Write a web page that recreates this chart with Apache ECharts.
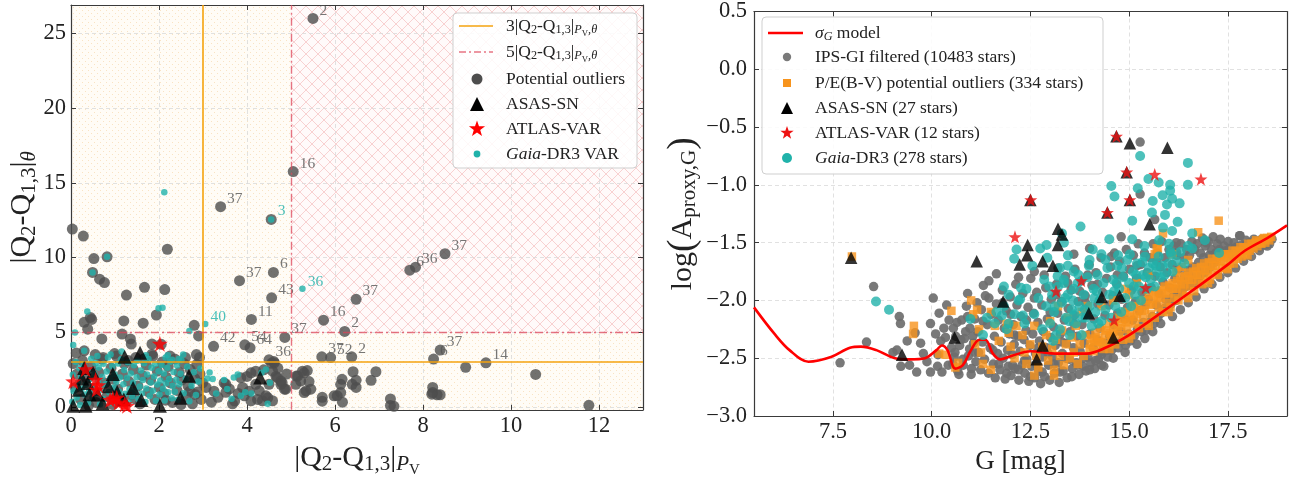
<!DOCTYPE html>
<html><head><meta charset="utf-8">
<script src="https://cdn.jsdelivr.net/npm/echarts@6/dist/echarts.min.js"></script>
<style>html,body{margin:0;padding:0;background:#fff;}#c{width:1299px;height:483px;}</style>
</head><body><div id="c"></div>
<script>
// ---------------- DATA ----------------
const leftXTicks = [0, 2, 4, 6, 8, 10, 12];
const leftYTicks = [0, 5, 10, 15, 20, 25];
const rightXTicks = [7.5, 10, 12.5, 15, 17.5];
const rightYTicks = [-3, -2.5, -2, -1.5, -1, -0.5, 0, 0.5];
const threshold3 = 3;
const threshold5 = 5;

const leftGray = [
[0.03,11.9],[0.28,11.43],[2.19,10.55],[0.52,9.93],[0.82,10.04],[0.49,9.0],[0.65,8.55],[0.76,8.32],[1.26,7.48],[1.67,8.0],[2.13,7.85],[1.94,6.15],
[0.3,5.66],[0.44,5.99],[0.38,5.2],[0.47,5.85],[1.2,5.75],[1.64,5.6],[2.8,5.46],[2.9,4.75],[0.7,4.55],[1.16,4.87],[1.35,4.55],[1.37,4.2],[1.84,4.2],
[0.3,3.75],[0.73,3.31],[0.99,3.57],[1.84,3.53],[2.92,3.31],[2.05,4.19],
[0.05,2.9],[0.14,2.2],[0.1,1.3],[0.22,0.5],[0.26,3.1],[0.36,1.9],[0.45,2.7],[0.53,1.1],[0.57,0.3],[0.63,2.3],[0.7,3.2],[0.77,1.6],[0.82,0.7],[0.91,2.6],
[0.96,1.85],[1.03,3.4],[1.06,1.2],[1.12,0.4],[1.17,2.2],[1.21,2.9],[1.31,1.7],[1.36,0.8],[1.42,2.5],[1.47,3.3],[1.52,1.4],[1.57,0.2],[1.62,2.1],[1.71,2.8],
[1.76,1.0],[1.81,1.8],[1.86,3.4],[1.91,0.5],[1.96,2.4],[2.01,1.3],[2.07,3.0],[2.11,0.9],[2.16,2.0],[2.21,2.7],[2.26,1.6],[2.31,0.3],[2.36,3.2],[2.41,1.1],
[2.46,2.3],[2.52,1.8],[2.57,2.9],[2.62,0.7],[2.66,1.4],[2.71,2.5],[2.76,0.2],[2.81,1.9],[2.86,2.85],[2.88,1.0],[2.93,2.2],[2.96,0.5],[2.99,1.6],[2.85,3.5],
[0.12,3.6],[0.55,3.5],[1.3,3.1],[1.65,3.2],[2.25,3.4],[2.6,3.3],[0.4,0.1],[0.95,0.15],[1.45,0.55],[2.15,0.45],[2.5,0.15],[2.7,1.05],
[3.07,1.3],[3.19,0.31],[3.34,0.64],[3.52,1.51],[3.52,0.97],[3.67,0.2],[3.86,1.95],[3.9,1.3],[3.94,0.74],[4.09,0.41],[4.09,2.28],[4.2,2.39],[4.28,1.07],
[4.35,0.41],[4.43,0.74],[4.5,1.51],[4.58,2.39],[4.62,2.94],[4.69,1.95],[4.77,1.51],[4.88,1.18],[4.2,1.51],[4.58,0.41],[4.85,1.18],[4.77,1.73],[3.25,1.05],
[3.48,1.6],[3.72,0.39],[4.0,2.04],[4.05,1.05],[4.38,2.48],[4.56,2.92],[4.66,2.04],[4.8,1.6],[4.24,0.5],[4.47,0.61],[2.82,0.83],[4.7,2.6],[4.9,2.2],[3.6,1.2],
[3.8,0.9],[4.61,3.03],
[5.12,2.06],[5.26,2.39],[5.37,2.43],[5.22,1.73],[5.34,1.07],[5.15,2.06],[5.11,1.51],[5.3,0.96],[5.45,1.18],[5.41,1.69],[5.3,2.28],[5.71,0.64],[5.71,0.38],
[5.98,0.74],[6.13,1.51],[6.13,0.96],[6.17,0.31],[6.41,2.35],[6.48,1.78],[6.48,1.3],[6.82,1.78],[6.93,2.35],[7.26,0.53],[7.26,0.09],[7.34,0.04],[6.05,0.74],
[6.16,1.84],[6.39,1.51],[8.22,1.3],[8.22,0.96],[8.32,0.81],[8.39,0.81],[8.2,0.85],[8.97,2.65],[10.56,2.17],[11.77,0.1]
];
// [x, y, label, labelColour ('g' grey / 't' teal)]
const leftGrayLabelled = [
[5.5,26.0,'2','g'],[5.05,15.75,'16','g'],[3.4,13.4,'37','g'],[4.55,12.55,'3','t'],[8.5,10.25,'37','g'],[7.7,9.15,'6','g'],[7.83,9.35,'36','g'],
[3.83,8.45,'37','g'],[4.6,9.0,'6','g'],[4.56,7.3,'43','g'],[6.48,7.2,'37','g'],[4.1,5.85,'11','g'],[5.74,5.8,'16','g'],[6.22,5.05,'2','g'],[4.86,4.65,'37','g'],
[3.24,4.05,'42','g'],[3.95,4.15,'54','g'],[4.07,3.95,'64','g'],[4.5,3.15,'36','g'],[5.7,3.35,'37','g'],[5.9,3.3,'52','g'],[6.38,3.35,'2','g'],
[8.39,3.8,'37','g'],[8.24,3.2,'6','g'],[9.43,2.95,'14','g']
];
const leftTeal = [
[0.03,0.35],[0.06,1.05],[0.04,2.15],[0.11,3.0],[0.13,0.62],[0.16,1.63],[0.19,2.58],[0.21,0.12],[0.24,1.22],[0.23,2.04],[0.29,2.86],[0.31,0.82],[0.33,1.48],
[0.37,2.41],[0.39,0.28],[0.41,1.02],[0.44,1.88],[0.46,3.22],[0.49,0.61],[0.51,1.39],[0.53,2.19],[0.56,2.94],[0.59,0.93],[0.61,1.71],[0.63,2.63],[0.66,0.18],
[0.69,1.17],[0.71,2.02],[0.74,2.88],[0.77,0.52],[0.79,1.53],[0.81,2.37],[0.84,3.31],[0.86,0.99],[0.89,1.91],[0.92,0.27],[0.94,2.72],[0.97,1.29],[0.99,2.18],
[1.01,0.71],[1.03,1.68],[1.07,2.91],[1.09,1.03],[1.11,1.96],[1.14,3.18],[1.16,0.48],[1.19,1.51],[1.21,2.47],[1.23,0.87],[1.27,1.93],[1.29,2.98],[1.31,0.31],
[1.33,1.19],[1.36,2.23],[1.39,0.69],[1.41,1.61],[1.43,2.79],[1.46,1.04],[1.49,1.98],[1.51,3.08],[1.53,0.52],[1.56,1.37],[1.59,2.43],[1.61,0.89],[1.63,1.79],
[1.66,2.92],[1.69,0.33],[1.71,1.23],[1.73,2.17],[1.76,3.2],[1.79,0.72],[1.81,1.63],[1.83,2.61],[1.86,1.08],[1.89,2.03],[1.91,2.87],[1.93,0.41],[1.96,1.49],
[1.99,2.38],[2.01,0.83],[2.03,1.76],[2.06,2.81],[2.09,1.21],[2.11,2.24],[2.13,0.43],[2.16,1.58],[2.19,2.62],[2.21,0.98],[2.23,1.87],[2.26,3.02],[2.29,0.57],
[2.31,1.42],[2.33,2.33],[2.36,1.01],[2.39,1.82],[2.41,2.77],[2.43,0.47],[2.46,1.52],[2.49,2.21],[2.51,3.12],[2.56,0.91],[2.61,1.88],[2.64,2.68],[2.69,0.38],
[2.74,1.41],[2.79,2.31],[2.84,0.79],[2.89,1.69],[2.94,2.57],
[3.1,1.9],[3.22,1.86],[3.48,1.8],[3.7,1.97],[3.96,0.97],[3.86,0.75],[3.79,2.17],[4.33,2.28],[4.43,2.5],[4.52,1.62],[4.47,0.2],[3.3,0.9],[3.55,1.2],[3.65,0.55],
[4.1,0.9],[3.15,2.3],[2.15,3.3],[2.3,3.15],[2.45,3.2],[0.9,3.5],[1.15,3.7],[2.2,3.45],[2.55,3.5],[0.6,3.4],[1.7,3.45],
[2.12,14.36],[0.82,10.04],[0.49,9.0],[4.55,12.55],[0.37,6.38],[1.99,6.6],[2.08,6.64],[0.09,4.98],[0.05,4.14],[2.69,5.07],[0.3,3.75]
];
const leftTealLabelled = [[5.26,7.9,'36'],[3.05,5.55,'40']];
const leftTriangles = [
[1.22,3.36],[1.57,3.62],[2.68,2.08],[4.3,1.97],[0.3,2.6],[0.38,1.6],[0.85,1.38],[1.41,1.27],[1.6,0.46],[2.49,0.61],[2.02,0.07],[0.33,0.07],[0.05,0.07],
[0.61,0.83],[0.5,2.28],[0.18,1.15],[0.72,0.25],[1.05,1.0],[0.42,0.85],[1.2,0.5],[0.25,1.9],[0.95,2.2]
];
const leftStars = [
[2.02,4.23],[0.33,2.52],[0.05,1.71],[0.56,1.82],[0.58,1.16],[0.89,0.46],[1.04,0.61],[1.08,0.29],[1.22,0.18],[1.27,0.07],[0.62,1.45],[0.95,0.55]
];

const sigmaModel = [
[5.5,-2.06],[6.02,-2.29],[6.4,-2.43],[6.88,-2.53],[7.45,-2.49],[7.93,-2.41],[8.21,-2.40],[8.6,-2.43],[9.07,-2.50],[9.45,-2.51],[9.83,-2.50],[10.12,-2.43],
[10.26,-2.39],[10.4,-2.43],[10.6,-2.59],[10.79,-2.56],[10.98,-2.44],[11.21,-2.34],[11.36,-2.34],[11.55,-2.46],[11.74,-2.51],[12.02,-2.48],[12.5,-2.44],
[13.17,-2.46],[13.93,-2.46],[14.4,-2.41],[15.0,-2.30],[15.55,-2.17],[16.5,-1.94],[17.5,-1.69],[17.93,-1.57],[18.5,-1.46],[19.0,-1.35]
];
const rightGray = [
[7.68,-2.54],[8.53,-1.88],[8.35,-2.36],[9.02,-2.45],[9.12,-2.43],[9.22,-2.57],[9.44,-2.56],[9.18,-2.14],[9.21,-2.2],[9.38,-2.35],[9.58,-2.28],[9.72,-2.37],
[9.79,-2.46],[9.88,-2.53],[9.97,-2.2],[10.04,-1.98],[10.1,-2.29],[10.16,-2.47],[10.19,-2.11],[10.23,-2.35],[10.26,-2.62],[10.31,-2.24],[10.38,-2.04],[10.44,-2.17],
[10.5,-2.41],[10.53,-2.55],[10.59,-2.45],[10.64,-2.19],[10.69,-2.64],[10.74,-2.34],[10.79,-2.51],[10.86,-2.27],[10.91,-2.14],[10.96,-2.42],[11.01,-2.59],[11.04,-2.31],
[10.91,-1.94],[11.31,-1.87],[11.45,-1.83],[11.64,-1.77],[9.62,-2.62],[9.97,-2.62],[10.42,-2.56],
[10.57,-2.49],[10.61,-2.31],[10.66,-2.61],[10.71,-2.39],[10.76,-2.17],[10.8,-2.56],[10.83,-2.33],[10.88,-2.05],[10.93,-2.48],[10.97,-2.24],[11.0,-2.64],[11.06,-2.37],
[11.09,-2.16],[11.12,-2.53],[11.17,-2.27],[11.19,-2.45],[11.24,-2.6],[11.26,-2.08],[11.29,-2.36],[11.34,-2.51],[11.36,-1.96],[11.41,-2.21],[11.44,-2.63],[11.48,-2.41],[11.51,-2.12],
[11.56,-2.55],[11.59,-2.31],[11.61,-2.67],[11.64,-2.03],[11.67,-2.46],[11.69,-2.17],[11.73,-2.6],[11.76,-2.36],[11.79,-1.91],[11.81,-2.5],[11.84,-2.24],[11.86,-2.68],
[11.89,-2.09],[11.92,-2.43],[11.94,-2.57],[11.97,-2.29],[11.99,-1.97],[12.01,-2.65],[12.04,-2.47],[12.07,-2.21],[12.09,-2.38],[12.11,-2.59],[12.13,-1.86],[12.16,-2.04],
[12.19,-2.31],[12.21,-2.69],[12.24,-2.44],[12.26,-2.14],[12.29,-2.56],[12.31,-1.94],[12.34,-2.34],[12.36,-2.63],[12.39,-2.26],[12.41,-2.51],[12.44,-2.06],[12.46,-2.7],
[12.49,-2.39],[12.51,-1.81],
[12.53,-2.57],[12.56,-2.29],[12.58,-2.11],[12.61,-2.67],[12.63,-2.46],[12.66,-1.93],[12.69,-2.19],[12.71,-2.61],[12.73,-2.35],[12.76,-2.72],[12.79,-2.04],[12.81,-2.49],
[12.83,-2.27],[12.86,-2.66],[12.89,-1.89],[12.91,-2.41],[12.93,-2.16],[12.96,-2.56],[12.99,-2.69],[13.01,-2.32],[13.03,-1.99],[13.06,-2.49],[13.09,-2.23],[13.11,-2.63],
[13.13,-2.39],[13.16,-1.86],[13.19,-2.11],[13.21,-2.54],[13.23,-2.71],[13.26,-2.29],[13.29,-2.01],[13.31,-2.46],[13.33,-2.61],[13.36,-2.17],[13.39,-1.79],[13.41,-2.37],
[13.43,-2.67],[13.46,-2.07],[13.49,-2.51],
[13.51,-2.27],[13.53,-1.91],[13.56,-2.59],[13.59,-2.41],[13.61,-2.13],[13.63,-1.73],[13.66,-2.54],[13.69,-2.31],[13.71,-2.01],[13.73,-2.64],[13.76,-2.44],[13.79,-1.83],
[13.81,-2.21],[13.83,-2.57],[13.86,-2.37],[13.89,-1.96],[13.91,-2.61],[13.93,-2.11],[13.96,-2.49],[13.99,-1.69],[14.01,-2.29],[14.03,-2.54],[14.06,-1.87],[14.09,-2.41],
[14.11,-2.16],[14.13,-2.59],[14.16,-1.76],[14.19,-2.34],[14.21,-2.03],[14.23,-2.51],[14.26,-2.24],[14.29,-1.63],[14.31,-2.44],[14.33,-1.93],[14.36,-2.57],[14.39,-2.13],
[14.41,-2.37],[14.43,-1.81],[14.46,-2.49],[14.49,-2.04],
[14.51,-2.31],[14.53,-1.71],[14.56,-2.43],[14.59,-1.96],[14.61,-2.21],[14.63,-1.59],[14.66,-2.37],[14.69,-1.86],[14.71,-2.11],[14.73,-2.41],[14.76,-1.66],[14.79,-2.27],
[14.81,-1.99],[14.83,-2.35],[14.86,-1.79],[14.89,-2.16],[14.91,-2.39],[14.93,-1.56],[14.96,-2.06],[14.99,-2.29],[15.01,-1.73],[15.03,-2.35],[15.06,-1.91],[15.09,-2.17],
[15.11,-1.61],[15.13,-2.31],[15.16,-2.01],[15.19,-1.81],[15.21,-2.25],[15.23,-1.51],[15.26,-2.09],[15.29,-1.69],[15.31,-2.27],[15.33,-1.93],[15.36,-2.19],[15.39,-1.59],
[15.41,-2.04],[15.43,-2.26],[15.46,-1.76],[15.49,-1.99],
[15.51,-2.19],[15.53,-1.63],[15.56,-1.89],[15.59,-2.14],[15.61,-1.51],[15.63,-2.2],[15.66,-1.79],[15.69,-2.04],[15.71,-1.59],[15.73,-2.15],[15.76,-1.94],[15.79,-1.71],
[15.81,-2.11],[15.83,-1.49],[15.86,-1.84],[15.89,-2.07],[15.91,-1.63],[15.93,-1.99],[15.96,-1.76],[15.99,-2.08],[16.01,-1.56],[16.03,-1.89],[16.06,-2.03],[16.09,-1.69],
[16.11,-1.97],[16.13,-1.53],[16.16,-1.81],[16.19,-2.0],[16.21,-1.61],[16.23,-1.91],[16.26,-1.73],[16.29,-1.95],[16.31,-1.51],[16.33,-1.84],[16.36,-1.9],[16.39,-1.63],
[16.41,-1.79],[16.43,-1.88],[16.46,-1.56],[16.49,-1.74],
[16.51,-1.87],[16.53,-1.61],[16.56,-1.81],[16.59,-1.49],[16.61,-1.71],[16.63,-1.85],[16.66,-1.56],[16.69,-1.77],[16.71,-1.83],[16.73,-1.51],[16.76,-1.67],[16.79,-1.79],
[16.81,-1.59],[16.83,-1.73],[16.86,-1.46],[16.89,-1.63],[16.91,-1.76],[16.93,-1.53],[16.96,-1.69],[16.99,-1.73],[17.01,-1.49],[17.03,-1.61],[17.06,-1.71],[17.09,-1.56],
[17.11,-1.65],[17.13,-1.45],[17.16,-1.67],[17.19,-1.59],[17.21,-1.63],[17.23,-1.51],[17.26,-1.61],[17.29,-1.56],[17.31,-1.47],[17.36,-1.59],[17.41,-1.53],[17.46,-1.57],
[17.51,-1.49],[17.56,-1.55],[17.61,-1.61],[17.66,-1.5],[17.71,-1.54],[17.76,-1.59],[17.81,-1.44],[17.86,-1.52],[17.91,-1.56],[17.96,-1.48],[18.01,-1.53],[18.06,-1.5],
[18.11,-1.55],[18.16,-1.47],[18.21,-1.51],[18.26,-1.49],[18.31,-1.54],[18.36,-1.47],[18.41,-1.5],[18.46,-1.52],[18.51,-1.48],[18.56,-1.51],[18.62,-1.47],
[16.9,-1.9],[17.1,-1.86],[17.3,-1.8],[17.5,-1.76],[17.7,-1.72],[17.9,-1.66],[18.1,-1.62],[18.3,-1.57],[18.5,-1.53],[16.5,-2.02],[16.7,-1.97],[16.1,-2.14],
[16.3,-2.08],[15.8,-2.2],[15.6,-2.27],[15.4,-2.33],[15.2,-2.38],[14.9,-2.45],[14.6,-2.5],[14.3,-2.56],
[15.28,-0.63],[15.28,-1.08],[17.8,-1.44],[16.95,-1.5],[16.2,-1.5],[15.65,-1.3],[14.8,-1.45],[14.0,-1.55],[13.6,-1.6],[13.2,-1.72],[12.6,-1.75],[12.2,-1.8],
[11.7,-2.55],[11.9,-2.63],[12.05,-2.56],[12.2,-2.6],[12.35,-2.52],[12.5,-2.66],[12.65,-2.55],[12.8,-2.62],[12.95,-2.46],[13.1,-2.55],[13.25,-2.62],[13.4,-2.5],
[13.55,-2.66],[13.7,-2.56],[13.85,-2.5],[14.0,-2.6],[14.15,-2.52],[14.3,-2.47],[14.45,-2.43],[12.1,-2.3],[12.4,-2.17],[12.7,-2.41],[13.0,-2.1],[13.3,-2.36],
[13.6,-2.2],[13.9,-2.02],[12.0,-2.12],[11.8,-2.02],[11.55,-2.43],[11.3,-2.18],[11.1,-2.45],[12.6,-1.98],[13.15,-1.95],[13.75,-1.92],[14.2,-1.86],[14.7,-1.78],
[15.2,-1.7],[15.7,-1.66],[16.2,-1.58],[10.35,-2.32],[10.55,-2.24],[10.15,-2.57],[11.15,-2.02],[11.45,-1.98],[12.85,-1.78],[13.45,-1.85],[13.95,-1.78],[14.55,-1.62]
];
const rightOrange = [
[14.0,-2.42],[14.05,-2.33],[14.1,-2.44],[14.15,-2.28],[14.2,-2.4],[14.25,-2.36],[14.3,-2.24],[14.35,-2.42],[14.4,-2.3],[14.45,-2.38],[14.5,-2.2],[14.55,-2.34],
[14.6,-2.27],[14.65,-2.38],[14.7,-2.15],[14.75,-2.3],[14.8,-2.22],[14.85,-2.34],[14.9,-2.1],[14.95,-2.25],[15.0,-2.18],[15.05,-2.3],[15.1,-2.05],[15.15,-2.2],
[15.2,-2.12],[15.25,-2.24],[15.3,-2.0],[15.35,-2.15],[15.4,-2.08],[15.45,-2.2],[15.5,-1.95],[15.55,-2.12],[15.6,-2.03],[15.65,-2.15],[15.7,-1.92],[15.75,-2.06],
[15.8,-1.98],[15.85,-2.1],[15.9,-1.88],[15.95,-2.02],[16.0,-1.94],[16.05,-2.06],[16.1,-1.85],[16.15,-1.98],[16.2,-1.9],[16.25,-2.0],[16.3,-1.8],[16.35,-1.93],
[16.4,-1.86],[16.45,-1.96],[16.5,-1.76],[16.55,-1.88],[16.6,-1.82],[16.65,-1.92],[16.7,-1.72],[16.75,-1.84],[16.8,-1.78],[16.85,-1.86],[16.9,-1.68],[16.95,-1.8],
[17.0,-1.74],[17.05,-1.82],[17.1,-1.64],[17.15,-1.76],[17.2,-1.7],[17.25,-1.78],[17.3,-1.62],[17.35,-1.72],[17.4,-1.66],[17.45,-1.72],[17.5,-1.6],[17.55,-1.68],
[17.6,-1.62],[17.65,-1.68],[17.7,-1.57],[17.75,-1.64],[17.8,-1.58],[17.85,-1.62],[17.9,-1.54],[17.95,-1.6],[18.0,-1.55],[18.05,-1.57],[18.1,-1.51],[18.15,-1.55],
[18.2,-1.5],[18.25,-1.53],[18.3,-1.49],[18.35,-1.51],[18.4,-1.47],[18.45,-1.5],[18.5,-1.46],[18.55,-1.48],[18.6,-1.45],
[14.02,-2.38],[14.12,-2.35],[14.22,-2.32],[14.32,-2.36],[14.42,-2.26],[14.52,-2.28],[14.62,-2.2],[14.72,-2.24],[14.82,-2.16],[14.92,-2.19],[15.02,-2.12],[15.12,-2.14],
[15.22,-2.06],[15.32,-2.09],[15.42,-2.0],[15.52,-2.04],[15.62,-1.96],[15.72,-1.99],[15.82,-1.91],[15.92,-1.94],[16.02,-1.87],[16.12,-1.9],[16.22,-1.83],[16.32,-1.86],
[16.42,-1.79],[16.52,-1.82],[16.62,-1.75],[16.72,-1.78],[16.82,-1.71],[16.92,-1.74],[17.02,-1.67],[17.12,-1.7],[17.22,-1.64],[17.32,-1.66],[17.42,-1.6],[17.52,-1.63],
[17.62,-1.57],[17.72,-1.6],[17.82,-1.54],[17.92,-1.57],[18.02,-1.51],[18.12,-1.53],[18.22,-1.48],[18.32,-1.5],[18.42,-1.46],
[14.5,-2.42],[15.0,-2.33],[15.5,-2.22],[16.0,-2.1],[16.5,-1.98],[17.0,-1.85],[17.5,-1.73],[18.0,-1.61],
[10.5,-2.09],[9.55,-2.22],[9.53,-2.29],[10.19,-2.46],[10.67,-2.54],[11.0,-2.0],[11.05,-2.12],[11.15,-2.08],[11.2,-2.25],[11.1,-2.38],[11.25,-2.45],[11.5,-2.1],
[11.6,-2.22],[11.7,-2.35],[11.9,-2.2],[11.95,-2.28],[12.0,-2.4],[12.1,-2.5],[12.15,-2.22],[12.3,-2.3],[12.35,-2.45],[12.4,-2.55],[12.5,-2.38],[12.6,-2.22],
[12.65,-2.48],[12.7,-2.58],[12.8,-2.4],[12.9,-2.3],[12.95,-2.52],[13.0,-2.18],[13.05,-2.42],[13.1,-2.6],[13.15,-2.34],[13.2,-2.05],[13.25,-2.48],[13.3,-2.26],
[13.35,-2.56],[13.4,-2.38],[13.45,-2.15],[13.5,-2.5],[13.55,-2.32],[13.6,-2.45],[13.65,-2.22],[13.7,-2.55],[13.75,-2.38],[13.8,-2.1],[13.85,-2.48],[13.9,-2.3],
[13.95,-2.05],[10.35,-2.47],[10.6,-2.58],[11.3,-2.55],[12.6,-2.65],[13.1,-2.65],[11.5,-2.6],
[14.3,-2.05],[14.6,-2.0],[14.9,-1.9],[15.2,-1.85],[15.5,-1.78],[15.7,-1.55],[15.65,-1.6],[16.2,-1.75],[16.5,-1.65],[16.1,-1.6],[15.0,-1.95],
[17.27,-1.31],[16.75,-1.41],[15.86,-1.42],[15.73,-1.55],[16.33,-1.71],[7.98,-1.62]
];
const rightTeal = [
[15.28,-0.75],[16.49,-0.81],[14.55,-1.01],[14.63,-1.1],[15.22,-1.03],[15.49,-0.95],[15.75,-0.98],[16.04,-1.0],[16.04,-1.05],[15.85,-1.09],[16.09,-1.12],[16.49,-1.0],
[15.6,-1.14],[15.96,-1.17],[16.28,-1.16],[15.58,-1.24],[15.91,-1.26],[15.08,-1.31],[13.77,-1.36],[16.23,-1.32],[15.86,-1.37],[16.09,-1.4],[15.76,-1.48],[15.08,-1.47],
[14.5,-1.47],[15.39,-1.53],[16.01,-1.51],[16.49,-1.53],[16.6,-1.42],[16.92,-1.48],[17.28,-1.59],[16.07,-1.6],[14.72,-1.61],[14.08,-1.56],[12.91,-1.52],[12.15,-1.56],
[12.09,-1.64],[13.45,-1.61],[13.98,-1.7],[14.4,-1.65],[15.34,-1.67],[12.93,-1.63],[11.83,-1.88],[8.59,-2.01],[8.92,-2.08],[11.83,-2.05],[11.78,-2.13],[13.19,-1.79],
[13.72,-1.78],[13.35,-1.85],[12.24,-1.99],[12.26,-1.89],[11.95,-2.2],[11.64,-2.1],[10.98,-2.16],[12.31,-2.13],[13.3,-1.42],[13.35,-1.5],
[13.0,-2.2],[13.05,-1.95],[13.1,-2.1],[13.2,-1.88],[13.25,-2.25],[13.3,-2.02],[13.35,-1.82],[13.4,-2.15],[13.45,-1.95],[13.5,-2.3],[13.55,-2.08],[13.6,-1.9],
[13.65,-2.2],[13.7,-1.85],[13.75,-2.05],[13.8,-2.3],[13.85,-1.95],[13.9,-2.15],[13.95,-1.8],[14.0,-2.05],[14.05,-2.22],[14.1,-1.9],[14.15,-2.1],[14.2,-1.78],
[14.25,-2.0],[14.3,-2.18],[14.35,-1.85],[14.4,-2.08],[14.45,-1.72],[14.5,-1.95],[14.55,-2.15],[14.6,-1.82],[14.65,-2.05],[14.7,-1.7],[14.75,-1.9],[14.8,-2.1],
[14.85,-1.8],[14.9,-1.98],[14.95,-1.65],[15.0,-1.85],[15.05,-2.05],[15.1,-1.75],[15.15,-1.95],[15.2,-1.68],[15.25,-1.88],[15.3,-2.0],[15.35,-1.78],[15.4,-1.62],
[15.45,-1.9],[15.5,-1.72],[15.55,-1.82],[15.6,-1.68],[15.65,-1.88],[15.7,-1.75],[15.75,-1.62],[15.8,-1.8],[15.85,-1.7],[15.9,-1.78],[16.0,-1.68],[16.05,-1.58],
[16.1,-1.75],[16.2,-1.66],[16.3,-1.58],[16.4,-1.68],[16.6,-1.55],[12.6,-2.12],[12.7,-1.98],[12.8,-2.25],[12.85,-1.82],[12.9,-2.05],[12.55,-1.7],[12.4,-1.9],
[12.35,-2.2],[12.2,-2.0],[12.1,-2.12],[11.9,-2.25],[11.95,-1.95],[11.6,-2.2],[11.4,-2.15],[11.3,-2.3],[13.15,-2.3],[13.25,-1.72],[13.45,-1.7],[13.6,-1.75],
[14.0,-1.65],[14.3,-1.6],[12.75,-1.55],[13.12,-2.05],[13.62,-2.12],[14.12,-1.98],[14.62,-1.92],[15.12,-1.88],[14.22,-2.2],[13.82,-2.15],[12.98,-1.88],[13.48,-2.18],
[14.82,-1.72],[15.42,-1.8],[15.02,-1.6],[13.08,-2.35],[13.58,-2.0],[14.18,-1.92],[14.68,-1.85],[15.18,-1.78],[15.68,-1.7],[13.38,-1.98],[13.88,-2.08]
];
const rightTriangles = [
[7.96,-1.63],[9.25,-2.47],[10.58,-2.32],[11.14,-1.66],[11.81,-2.01],[12.23,-1.69],[12.42,-1.61],[12.43,-1.52],[12.81,-1.66],[13.07,-1.7],[13.2,-1.38],[13.3,-1.43],
[13.2,-1.52],[12.66,-2.51],[12.81,-2.39],[13.98,-2.11],[14.31,-1.97],[14.76,-1.96],[14.6,-2.32],[14.45,-1.24],[14.68,-0.58],[15.02,-0.64],[14.94,-0.89],[15.02,-1.13],
[15.52,-1.34],[15.97,-0.68],[12.5,-1.13]
];
const rightStars = [
[12.51,-1.13],[14.45,-1.24],[14.68,-0.58],[14.94,-0.89],[15.02,-1.13],[15.65,-0.91],[16.82,-0.95],[12.11,-1.45],[13.15,-1.92],[13.79,-1.83],[15.42,-1.89],[14.62,-2.17]
];

// ---------------- STYLE ----------------
const SERIF = "'Liberation Serif','Times New Roman',serif";
const TEAL = '#20b2aa';
const GRAYL = '#4d4d4d';
const GRAYR = '#6e6e6e';
const ORANGE = '#f7941d';
const LINE3 = '#f5a30f';
const LINE5 = 'rgba(222,70,90,0.75)';
const STAR = 'path://M0,-10 L2.35,-3.24 L9.51,-3.09 L3.8,1.24 L5.88,8.09 L0,4 L-5.88,8.09 L-3.8,1.24 L-9.51,-3.09 L-2.35,-3.24 Z';
const LX = [0, 13], LY = [-0.2, 26.9], RX = [5.5, 19], RY = [-3, 0.5];

function makeDots() {
  const c = document.createElement('canvas'); c.width = 6; c.height = 6;
  const g = c.getContext('2d');
  g.fillStyle = '#fffcf6'; g.fillRect(0, 0, 6, 6);
  g.fillStyle = 'rgba(240,190,120,0.4)'; g.fillRect(1, 1, 1, 1); g.fillRect(4, 4, 1, 1);
  return c;
}
function makeCross() {
  const c = document.createElement('canvas'); c.width = 12; c.height = 12;
  const g = c.getContext('2d');
  g.fillStyle = '#fffafa'; g.fillRect(0, 0, 12, 12);
  g.strokeStyle = 'rgba(240,160,160,0.45)'; g.lineWidth = 1;
  g.beginPath(); g.moveTo(-1, -1); g.lineTo(13, 13); g.moveTo(13, -1); g.lineTo(-1, 13); g.stroke();
  return c;
}

function richFor(base) {
  return {
    s: { fontSize: base * 0.7, fontFamily: SERIF, padding: [base * 0.45, 0, 0, 0] },
    si: { fontSize: base * 0.7, fontFamily: SERIF, fontStyle: 'italic', padding: [base * 0.45, 0, 0, 0] },
    ss: { fontSize: base * 0.5, fontFamily: SERIF, padding: [base * 0.85, 0, 0, 0] },
    i: { fontSize: base, fontFamily: SERIF, fontStyle: 'italic' },
    p: { fontSize: base * 1.25, fontFamily: SERIF }
  };
}

const axLine = { show: true, onZero: false, lineStyle: { color: '#3a3a3a', width: 1.2 } };
const axTick = (vals) => ({ show: true, inside: true, length: 5, customValues: vals, lineStyle: { color: '#3a3a3a', width: 1 } });
const gridLine = { show: true, lineStyle: { color: '#d9d9d9', type: [4, 3], width: 0.8 } };
const tickFont = { fontFamily: SERIF, fontSize: 22.5, color: '#222' };
const minusFmt = v => (v < 0 ? '\u2212' : '') + Math.abs(v).toFixed(1);

function starPoints(cx, cy, R) {
  const pts = [];
  for (let k = 0; k < 10; k++) {
    const r = k % 2 === 0 ? R : R * 0.4;
    const a = -Math.PI / 2 + k * Math.PI / 5;
    pts.push([cx + r * Math.cos(a), cy + r * Math.sin(a)]);
  }
  return pts;
}
function tri(cx, cy, s) { return [[cx - s / 2, cy + s / 2], [cx + s / 2, cy + s / 2], [cx, cy - s / 2]]; }

const LEG_FS = 17.5;
const legRich = richFor(LEG_FS);
function legText(x, y, t) {
  return { type: 'text', x: x, y: y, z: 101, style: { text: t, fontFamily: SERIF, fontSize: LEG_FS, fill: '#222', verticalAlign: 'middle', align: 'left', rich: legRich } };
}

const graphics = [
  { type: 'rect', z: 100, shape: { x: 453, y: 13, width: 184, height: 155, r: 4 }, style: { fill: 'rgba(255,255,255,0.85)', stroke: '#cfcfcf', lineWidth: 1 } },
  { type: 'line', z: 101, shape: { x1: 459, y1: 26, x2: 493, y2: 26 }, style: { stroke: LINE3, lineWidth: 1.6 } },
  legText(506, 26, '3|Q{s|2}-Q{s|1,3}|{si|P}{ss|V}{si|,θ}'),
  { type: 'line', z: 101, shape: { x1: 459, y1: 52, x2: 493, y2: 52 }, style: { stroke: LINE5, lineWidth: 1.4, lineDash: [7, 3, 2, 3] } },
  legText(506, 52, '5|Q{s|2}-Q{s|1,3}|{si|P}{ss|V}{si|,θ}'),
  { type: 'circle', z: 101, shape: { cx: 477, cy: 79, r: 5.5 }, style: { fill: GRAYL } },
  legText(506, 79, 'Potential outliers'),
  { type: 'polygon', z: 101, shape: { points: tri(477, 104, 14) }, style: { fill: '#000' } },
  legText(506, 104, 'ASAS-SN'),
  { type: 'polygon', z: 101, shape: { points: starPoints(477, 129, 8.5) }, style: { fill: '#ff0000' } },
  legText(506, 129, 'ATLAS-VAR'),
  { type: 'circle', z: 101, shape: { cx: 477, cy: 154, r: 3.4 }, style: { fill: TEAL } },
  legText(506, 154, '{i|Gaia}-DR3 VAR'),
  { type: 'rect', z: 100, shape: { x: 762, y: 17, width: 341, height: 157, r: 4 }, style: { fill: 'rgba(255,255,255,0.85)', stroke: '#cfcfcf', lineWidth: 1 } },
  { type: 'line', z: 101, shape: { x1: 768, y1: 33, x2: 803, y2: 33 }, style: { stroke: '#ff0000', lineWidth: 2.6 } },
  legText(815, 33, '{i|σ}{si|G} model'),
  { type: 'circle', z: 101, shape: { cx: 787, cy: 57, r: 4.2 }, style: { fill: '#7a7a7a' } },
  legText(815, 57, 'IPS-GI filtered (10483 stars)'),
  { type: 'rect', z: 101, shape: { x: 783, y: 79, width: 8, height: 8 }, style: { fill: ORANGE } },
  legText(815, 83, 'P/E(B-V) potential outliers (334 stars)'),
  { type: 'polygon', z: 101, shape: { points: tri(787, 108, 12) }, style: { fill: '#000' } },
  legText(815, 108, 'ASAS-SN (27 stars)'),
  { type: 'polygon', z: 101, shape: { points: starPoints(787, 133, 7) }, style: { fill: '#ee1111' } },
  legText(815, 133, 'ATLAS-VAR (12 stars)'),
  { type: 'circle', z: 101, shape: { cx: 787, cy: 158, r: 5 }, style: { fill: TEAL } },
  legText(815, 158, '{i|Gaia}-DR3 (278 stars)')
];

const TITLE_FS = 30;
const titleRich = richFor(TITLE_FS);

const option = {
  animation: false,
  backgroundColor: '#ffffff',
  grid: [
    { left: 71, top: 5, width: 572, height: 412 },
    { left: 754, top: 10, width: 533, height: 406 }
  ],
  xAxis: [
    { gridIndex: 0, type: 'value', min: LX[0], max: LX[1], position: 'bottom', z: 1.5,
      axisLine: axLine, axisTick: axTick(leftXTicks),
      axisLabel: Object.assign({ customValues: leftXTicks, margin: 5 }, tickFont),
      splitLine: gridLine,
      name: '|Q{s|2}-Q{s|1,3}|{si|P}{ss|V}', nameLocation: 'middle', nameGap: 27,
      nameTextStyle: { fontFamily: SERIF, fontSize: TITLE_FS, color: '#222', rich: titleRich } },
    { gridIndex: 0, type: 'value', min: LX[0], max: LX[1], position: 'top', z: 1.5,
      axisLine: axLine, axisTick: axTick(leftXTicks), axisLabel: { show: false }, splitLine: { show: false } },
    { gridIndex: 1, type: 'value', min: RX[0], max: RX[1], position: 'bottom', z: 1.5,
      axisLine: axLine, axisTick: axTick(rightXTicks),
      axisLabel: Object.assign({ customValues: rightXTicks, margin: 5, formatter: v => v.toFixed(1) }, tickFont),
      splitLine: gridLine,
      name: 'G [mag]', nameLocation: 'middle', nameGap: 30,
      nameTextStyle: { fontFamily: SERIF, fontSize: 27, color: '#222' } },
    { gridIndex: 1, type: 'value', min: RX[0], max: RX[1], position: 'top', z: 1.5,
      axisLine: axLine, axisTick: axTick(rightXTicks), axisLabel: { show: false }, splitLine: { show: false } }
  ],
  yAxis: [
    { gridIndex: 0, type: 'value', min: LY[0], max: LY[1], position: 'left', z: 1.5,
      axisLine: axLine, axisTick: axTick(leftYTicks),
      axisLabel: Object.assign({ customValues: leftYTicks, margin: 5 }, tickFont),
      splitLine: gridLine,
      name: '|Q{s|2}-Q{s|1,3}|{si|θ}', nameLocation: 'middle', nameGap: 30, nameRotate: 90,
      nameTextStyle: { fontFamily: SERIF, fontSize: TITLE_FS, color: '#222', rich: titleRich } },
    { gridIndex: 0, type: 'value', min: LY[0], max: LY[1], position: 'right', z: 1.5,
      axisLine: axLine, axisTick: axTick(leftYTicks), axisLabel: { show: false }, splitLine: { show: false } },
    { gridIndex: 1, type: 'value', min: RY[0], max: RY[1], position: 'left', z: 1.5,
      axisLine: axLine, axisTick: axTick(rightYTicks),
      axisLabel: Object.assign({ customValues: rightYTicks, margin: 7, formatter: minusFmt }, tickFont),
      splitLine: gridLine,
      name: 'log{p|(}A{s|proxy,G}{p|)}', nameLocation: 'middle', nameGap: 52, nameRotate: 90,
      nameTextStyle: { fontFamily: SERIF, fontSize: TITLE_FS, color: '#222', rich: titleRich } },
    { gridIndex: 1, type: 'value', min: RY[0], max: RY[1], position: 'right', z: 1.5,
      axisLine: axLine, axisTick: axTick(rightYTicks), axisLabel: { show: false }, splitLine: { show: false } }
  ],
  graphic: { elements: graphics },
  series: [
    { type: 'scatter', name: 'bgDots', xAxisIndex: 0, yAxisIndex: 0, data: [], silent: true, z: 1,
      markArea: { silent: true, itemStyle: { color: { image: makeDots(), repeat: 'repeat' } },
        data: [[{ xAxis: LX[0], yAxis: LY[0] }, { xAxis: LX[1], yAxis: LY[1] }]] } },
    { type: 'scatter', name: 'bgCross', xAxisIndex: 0, yAxisIndex: 0, data: [], silent: true, z: 1,
      markArea: { silent: true, itemStyle: { color: { image: makeCross(), repeat: 'repeat' } },
        data: [[{ xAxis: threshold5, yAxis: threshold5 }, { xAxis: LX[1], yAxis: LY[1] }]] } },
    { type: 'scatter', name: 'Potential outliers', xAxisIndex: 0, yAxisIndex: 0, z: 3, symbol: 'circle', symbolSize: 11,
      itemStyle: { color: GRAYL }, data: leftGray, silent: true },
    { type: 'scatter', name: 'Potential outliers (labelled)', xAxisIndex: 0, yAxisIndex: 0, z: 3, symbol: 'circle', symbolSize: 11,
      itemStyle: { color: GRAYL }, silent: true,
      label: { show: true, position: 'right', distance: 1, offset: [0, -8], fontFamily: SERIF, fontSize: 15.5 },
      data: leftGrayLabelled.map(d => ({ value: [d[0], d[1]], label: { formatter: d[2], color: d[3] === 't' ? TEAL : '#555' } })) },
    { type: 'scatter', name: '3σ', xAxisIndex: 0, yAxisIndex: 0, data: [], z: 3.5, silent: true,
      markLine: { silent: true, symbol: ['none', 'none'], label: { show: false },
        lineStyle: { color: LINE3, width: 1.6, type: 'solid' },
        data: [{ xAxis: threshold3 }, { yAxis: threshold3 }] } },
    { type: 'scatter', name: '5σ', xAxisIndex: 0, yAxisIndex: 0, data: [], z: 3.5, silent: true,
      markLine: { silent: true, symbol: ['none', 'none'], label: { show: false },
        lineStyle: { color: LINE5, width: 1.4, type: [8, 3, 2, 3] },
        data: [{ xAxis: threshold5 }, { yAxis: threshold5 }] } },
    { type: 'scatter', name: 'Gaia-DR3 VAR', xAxisIndex: 0, yAxisIndex: 0, z: 4, symbol: 'circle', symbolSize: 6.5,
      itemStyle: { color: TEAL }, data: leftTeal, silent: true },
    { type: 'scatter', name: 'Gaia-DR3 VAR (labelled)', xAxisIndex: 0, yAxisIndex: 0, z: 4, symbol: 'circle', symbolSize: 6.5,
      itemStyle: { color: TEAL }, silent: true,
      label: { show: true, position: 'right', distance: 2, offset: [0, -7], fontFamily: SERIF, fontSize: 15.5, color: TEAL },
      data: leftTealLabelled.map(d => ({ value: [d[0], d[1]], label: { formatter: d[2] } })) },
    { type: 'scatter', name: 'ASAS-SN', xAxisIndex: 0, yAxisIndex: 0, z: 5, symbol: 'triangle', symbolSize: 14,
      itemStyle: { color: '#000' }, data: leftTriangles, silent: true },
    { type: 'scatter', name: 'ATLAS-VAR', xAxisIndex: 0, yAxisIndex: 0, z: 6, symbol: STAR, symbolSize: 16,
      itemStyle: { color: '#ff0000' }, data: leftStars, silent: true },

    { type: 'scatter', name: 'IPS-GI filtered', xAxisIndex: 2, yAxisIndex: 2, z: 3, symbol: 'circle', symbolSize: 9.5,
      itemStyle: { color: GRAYR, opacity: 0.92 }, data: rightGray, silent: true },
    { type: 'scatter', name: 'P/E(B-V) potential outliers', xAxisIndex: 2, yAxisIndex: 2, z: 4, symbol: 'rect', symbolSize: 8.5,
      itemStyle: { color: ORANGE }, data: rightOrange, silent: true },
    { type: 'line', name: 'σG model', xAxisIndex: 2, yAxisIndex: 2, z: 4.5, data: sigmaModel, smooth: 0.35, showSymbol: false,
      lineStyle: { color: '#ff0000', width: 2.6 }, silent: true },
    { type: 'scatter', name: 'Gaia-DR3', xAxisIndex: 2, yAxisIndex: 2, z: 5, symbol: 'circle', symbolSize: 10,
      itemStyle: { color: TEAL }, data: rightTeal, silent: true },
    { type: 'scatter', name: 'ASAS-SN (27 stars)', xAxisIndex: 2, yAxisIndex: 2, z: 6, symbol: 'triangle', symbolSize: 12.5,
      itemStyle: { color: '#000' }, data: rightTriangles, silent: true },
    { type: 'scatter', name: 'ATLAS-VAR (12 stars)', xAxisIndex: 2, yAxisIndex: 2, z: 7, symbol: STAR, symbolSize: 13,
      itemStyle: { color: '#ee1111' }, data: rightStars, silent: true }
  ]
};

const chart = echarts.init(document.getElementById('c'), null, { renderer: 'canvas' });
chart.setOption(option);
</script></body></html>
